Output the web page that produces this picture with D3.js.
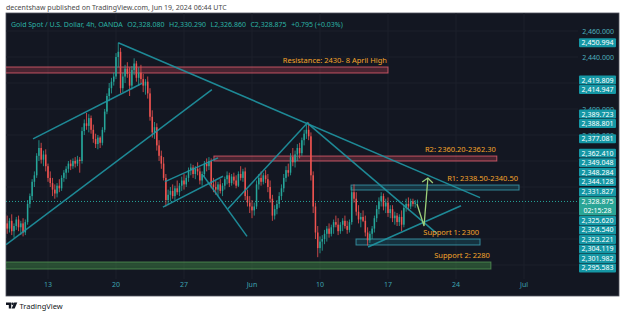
<!DOCTYPE html>
<html>
<head>
<meta charset="utf-8">
<script src="https://cdn.jsdelivr.net/npm/d3@7"></script>
<style>
  html, body { margin: 0; padding: 0; background: #fff; }
  svg { display: block; font-family: "Noto Sans", "DejaVu Sans", sans-serif; }
</style>
</head>
<body>
<svg id="chart" width="625" height="315"></svg>
<script>
// 4h candles, one row per bar: [open, high, low, close]
const candles = [
  [2312,2318,2304,2308],[2308,2316,2305,2314],[2314,2319,2303,2306],[2306,2312,2301,2310],
  [2310,2317,2307,2315],[2315,2318,2306,2309],[2309,2314,2303,2312],[2312,2316,2302,2305],
  [2305,2315,2303,2313],[2313,2330,2311,2327],[2327,2335,2324,2333],[2333,2346,2330,2344],
  [2344,2352,2340,2349],[2349,2366,2347,2364],[2364,2376,2360,2370],[2370,2374,2358,2361],
  [2361,2368,2356,2365],[2365,2369,2352,2356],[2356,2358,2344,2347],[2347,2352,2340,2343],
  [2343,2347,2333,2338],[2338,2342,2331,2335],[2335,2343,2332,2341],[2341,2346,2336,2339],
  [2339,2349,2337,2347],[2347,2353,2344,2351],[2351,2356,2346,2354],[2354,2360,2351,2358],
  [2358,2361,2353,2356],[2356,2362,2354,2360],[2360,2363,2355,2358],[2358,2364,2356,2361],
  [2361,2363,2351,2360],[2360,2386,2358,2383],[2383,2392,2380,2389],[2389,2397,2384,2387],
  [2387,2396,2382,2393],[2393,2395,2381,2384],[2384,2388,2374,2377],[2377,2381,2370,2373],
  [2373,2380,2369,2378],[2378,2379,2370,2374],[2374,2386,2372,2384],[2384,2400,2382,2398],
  [2398,2412,2396,2410],[2410,2420,2406,2416],[2416,2424,2412,2421],[2421,2428,2418,2425],
  [2425,2443,2423,2440],[2440,2451,2432,2444],[2444,2447,2412,2416],[2416,2428,2413,2425],
  [2425,2434,2420,2431],[2431,2436,2424,2427],[2427,2432,2410,2418],[2418,2433,2415,2430],
  [2430,2439,2426,2435],[2435,2437,2421,2424],[2424,2432,2418,2428],[2428,2434,2420,2423],
  [2423,2427,2413,2418],[2418,2423,2411,2421],[2421,2425,2408,2412],[2412,2416,2391,2394],
  [2394,2399,2378,2382],[2382,2390,2377,2386],[2386,2389,2368,2372],[2372,2376,2360,2364],
  [2364,2368,2354,2358],[2358,2363,2345,2347],[2347,2350,2325,2330],[2330,2338,2326,2334],
  [2334,2340,2329,2337],[2337,2342,2331,2333],[2333,2341,2330,2339],[2339,2345,2334,2336],
  [2336,2343,2333,2341],[2341,2348,2337,2345],[2345,2350,2338,2342],[2342,2349,2340,2347],
  [2347,2355,2344,2353],[2353,2358,2349,2355],[2355,2357,2347,2350],[2350,2356,2346,2354],
  [2354,2359,2349,2352],[2352,2355,2342,2345],[2345,2352,2341,2350],[2350,2360,2348,2358],
  [2358,2362,2352,2356],[2356,2363,2353,2360],[2360,2362,2339,2342],[2342,2347,2336,2340],
  [2340,2345,2334,2338],[2338,2344,2333,2342],[2342,2346,2335,2337],[2337,2343,2333,2341],
  [2341,2348,2338,2346],[2346,2352,2342,2349],[2349,2351,2340,2343],[2343,2350,2341,2348],
  [2348,2351,2342,2345],[2345,2349,2339,2341],[2341,2352,2340,2350],[2350,2356,2345,2347],
  [2347,2354,2344,2352],[2352,2355,2330,2333],[2333,2338,2325,2328],[2328,2333,2320,2325],
  [2325,2330,2316,2322],[2322,2328,2318,2325],[2325,2345,2323,2342],[2342,2350,2338,2347],
  [2347,2352,2341,2344],[2344,2351,2342,2349],[2349,2353,2343,2346],[2346,2350,2336,2340],
  [2340,2345,2328,2331],[2331,2334,2314,2318],[2318,2326,2315,2323],[2323,2330,2319,2327],
  [2327,2336,2324,2333],[2333,2342,2330,2339],[2339,2350,2336,2347],[2347,2356,2344,2353],
  [2353,2358,2348,2351],[2351,2366,2349,2363],[2363,2370,2356,2359],[2359,2368,2355,2365],
  [2365,2373,2360,2370],[2370,2374,2362,2366],[2366,2378,2364,2376],[2376,2384,2372,2381],
  [2381,2388,2377,2384],[2384,2389.7,2376,2379],[2379,2382,2345,2349],[2349,2352,2320,2325],
  [2325,2328,2300,2305],[2305,2310,2286,2293],[2293,2302,2289,2298],[2298,2303,2291,2300],
  [2300,2307,2296,2304],[2304,2310,2298,2308],[2308,2312,2301,2304],[2304,2311,2302,2309],
  [2309,2315,2304,2313],[2313,2318,2309,2311],[2311,2316,2303,2306],[2306,2313,2304,2311],
  [2311,2316,2306,2314],[2314,2318,2308,2310],[2310,2314,2304,2307],[2307,2315,2305,2313],
  [2313,2340,2311,2336],[2336,2342,2328,2331],[2331,2336,2318,2321],[2321,2326,2312,2315],
  [2315,2320,2309,2317],[2317,2322,2313,2314],[2314,2318,2302,2305],[2305,2309,2295,2299],
  [2299,2306,2297,2304],[2304,2310,2300,2308],[2308,2318,2305,2316],[2316,2326,2313,2323],
  [2323,2332,2319,2329],[2329,2336,2325,2333],[2333,2335,2322,2325],[2325,2331,2320,2328],
  [2328,2332,2317,2320],[2320,2326,2316,2323],[2323,2326,2313,2316],[2316,2321,2311,2318],
  [2318,2320,2310,2313],[2313,2319,2310,2317],[2317,2322,2306,2311],[2311,2326,2309,2324],
  [2324,2331,2321,2327],[2327,2332,2322,2325],[2325,2331,2323,2329],[2329,2331,2325,2327],
  [2327,2330,2324,2328.08],[2328.08,2330.29,2326.86,2328.875]
];

// time axis: bar index of each week start
const tickIdx = [18, 48, 78, 108, 138, 168, 198, 228];
const tickLabels = ["13", "20", "27", "Jun", "10", "17", "24", "Jul"];
const priceTicks = [2280, 2300, 2320, 2340, 2360, 2380, 2400, 2420, 2440, 2460];

// price tags on the right scale
const tagPrices = [2450.994, 2419.809, 2414.947, 2389.723, 2388.801, 2377.081, 2362.410,
  2349.048, 2348.284, 2344.128, 2331.827, 2325.620, 2324.540, 2323.221, 2304.119, 2301.982, 2295.583];
const lastPrice = 2328.875;
const countdown = "02:15:28";

// zones: [label, fromBar, toBar, lowPrice, highPrice, kind]
const zones = [
  ["Resistance: 2430- 8 April High", -6, 168, 2427.7, 2432.3, "red"],
  ["R2: 2360.20-2362.30", 91.2, 216, 2360.0, 2363.8, "red"],
  ["R1: 2338.50-2340.50", 151.7, 225.8, 2337.7, 2341.5, "blue"],
  ["Support 1: 2300", 153.9, 208.6, 2295.4, 2300.0, "blue"],
  ["Support 2: 2280", -6, 213.4, 2276.9, 2282.3, "green"]
];

// trend lines: [bar0, price0, bar1, price1]
const trendLines = [
  [49, 2450.994, 208.6, 2331.827],
  [132.7, 2388.801, 189.6, 2304.119],
  [97.4, 2323.221, 132.7, 2389.723],
  [86.4, 2349.048, 105.8, 2301.982],
  [69.6, 2344.128, 93, 2362.410],
  [68.7, 2324.540, 95.2, 2348.284],
  [-0.5, 2295.583, 90.3, 2414.947],
  [11.4, 2377.081, 59.5, 2419.809],
  [159.2, 2293.8, 200.2, 2325.620]
];

// projected path arrow: [bar, price]
const arrowPts = [[180.8, 2326.9], [183.9, 2310.0], [185.6, 2346.9]];

const svg = d3.select("#chart");
const plot = { left: 6, top: 13, right: 578, bottom: 279 };
const panel = { left: 6, top: 13, right: 619, bottom: 296 };

const x = d3.scaleLinear().domain([18, 228]).range([48, 524]);
const y = d3.scaleLinear().domain([2280, 2460]).range([265, 31]);

const upCol = "#26a69a", downCol = "#ef5350", lineCol = "#1f96a3", noteCol = "#f5a52a";
const tagCol = "#1597a5";

// header
svg.append("text").attr("x", 6).attr("y", 10)
  .attr("font-size", 7).attr("fill", "#4a4a4a")
  .text("decentshaw published on TradingView.com, Jun 19, 2024 06:44 UTC");

// chart panel
svg.append("rect")
  .attr("x", panel.left).attr("y", panel.top)
  .attr("width", panel.right - panel.left).attr("height", panel.bottom - panel.top)
  .attr("fill", "#131722").attr("stroke", "#50535e").attr("stroke-width", 0.8);

svg.append("clipPath").attr("id", "clip")
  .append("rect")
  .attr("x", plot.left).attr("y", plot.top)
  .attr("width", plot.right - plot.left).attr("height", plot.bottom - plot.top);

const g = svg.append("g").attr("clip-path", "url(#clip)");

// grid
g.selectAll(".hgrid").data(priceTicks).enter().append("line")
  .attr("x1", plot.left).attr("x2", plot.right)
  .attr("y1", d => y(d)).attr("y2", d => y(d))
  .attr("stroke", "#1c202b").attr("stroke-width", 1);
g.selectAll(".vgrid").data(tickIdx).enter().append("line")
  .attr("x1", d => x(d)).attr("x2", d => x(d))
  .attr("y1", plot.top).attr("y2", plot.bottom)
  .attr("stroke", "#1c202b").attr("stroke-width", 1);

// zones
const zoneFill = { red: "rgba(242,80,100,0.24)", blue: "rgba(33,150,170,0.22)", green: "rgba(76,175,80,0.35)" };
const zoneStroke = { red: "rgba(240,100,115,0.75)", blue: "rgba(60,160,180,0.8)", green: "rgba(90,160,90,0.7)" };
g.selectAll(".zone").data(zones).enter().append("rect")
  .attr("x", d => x(d[1])).attr("y", d => y(d[4]))
  .attr("width", d => x(d[2]) - x(d[1]))
  .attr("height", d => y(d[3]) - y(d[4]))
  .attr("fill", d => zoneFill[d[5]])
  .attr("stroke", d => zoneStroke[d[5]]).attr("stroke-width", 1);

// current price line
g.append("line")
  .attr("x1", plot.left).attr("x2", plot.right)
  .attr("y1", y(lastPrice)).attr("y2", y(lastPrice))
  .attr("stroke", upCol).attr("stroke-width", 1).attr("stroke-dasharray", "1,2");

// candles
const bw = 1.5;
const cg = g.append("g");
cg.selectAll(".wick").data(candles).enter().append("line")
  .attr("x1", (d, i) => x(i)).attr("x2", (d, i) => x(i))
  .attr("y1", d => y(d[1])).attr("y2", d => y(d[2]))
  .attr("stroke", d => d[3] >= d[0] ? upCol : downCol).attr("stroke-width", 0.8);
cg.selectAll(".body").data(candles).enter().append("rect")
  .attr("x", (d, i) => x(i) - bw / 2)
  .attr("y", d => y(Math.max(d[0], d[3])))
  .attr("width", bw)
  .attr("height", d => Math.max(0.8, Math.abs(y(d[0]) - y(d[3]))))
  .attr("fill", d => d[3] >= d[0] ? upCol : downCol);

// trend lines
g.selectAll(".trend").data(trendLines).enter().append("line")
  .attr("x1", d => x(d[0])).attr("y1", d => y(d[1]))
  .attr("x2", d => x(d[2])).attr("y2", d => y(d[3]))
  .attr("stroke", lineCol).attr("stroke-width", 1.5).attr("stroke-opacity", 0.9);

// arrow
const arrowCol = "#9ccf7a";
g.append("path")
  .attr("d", d3.line().x(d => x(d[0])).y(d => y(d[1]))(arrowPts))
  .attr("fill", "none").attr("stroke", arrowCol).attr("stroke-width", 1.3);
{
  const a = arrowPts[arrowPts.length - 2], b = arrowPts[arrowPts.length - 1];
  const tx = x(b[0]), ty = y(b[1]);
  const ang = Math.atan2(ty - y(a[1]), tx - x(a[0]));
  const len = 7, spread = Math.PI / 3.6;
  const wing = s => [tx - len * Math.cos(ang + s), ty - len * Math.sin(ang + s)];
  const w1 = wing(spread), w2 = wing(-spread);
  g.append("path")
    .attr("d", `M${w1[0]},${w1[1]}L${tx},${ty}L${w2[0]},${w2[1]}`)
    .attr("fill", "none").attr("stroke", arrowCol).attr("stroke-width", 1.3);
}

// zone notes, right aligned at zone end
g.selectAll(".note").data(zones).enter().append("text")
  .attr("x", d => x(d[2]) - 1).attr("y", d => y(d[4]) - 4)
  .attr("text-anchor", "end").attr("font-size", 7.5)
  .attr("fill", noteCol).text(d => d[0]);

// tag layout: keep the last price fixed, push others away from it
const tagH = 9.5;
const lastTop = y(lastPrice) - tagH / 2, lastBot = lastTop + 2 * tagH;
const above = tagPrices.filter(p => p > lastPrice).sort((a, b) => a - b);
const below = tagPrices.filter(p => p < lastPrice).sort((a, b) => b - a);
const tags = [];
let lim = lastTop - tagH / 2;
above.forEach(p => { const c = Math.min(y(p), lim); tags.push([p, c]); lim = c - tagH; });
lim = lastBot + tagH / 2;
below.forEach(p => { const c = Math.max(y(p), lim); tags.push([p, c]); lim = c + tagH; });
const tagCenters = tags.map(t => t[1]).concat([y(lastPrice), y(lastPrice) + tagH]);

// right price scale labels: the ones fully under the tag stack stay hidden
const hidden = p => {
  const py = y(p);
  if (tagCenters.some(c => Math.abs(c - py) < 3.5)) return true;
  const up = tagCenters.some(c => c <= py && py - c < tagH);
  const dn = tagCenters.some(c => c > py && c - py < tagH);
  return up && dn;
};
const fmt = d3.format(",.3f");
svg.selectAll(".ptick")
  .data(priceTicks.filter(p => !hidden(p)))
  .enter().append("text")
  .attr("x", 614).attr("y", d => y(d) + 2.5)
  .attr("text-anchor", "end").attr("font-size", 7).attr("fill", "#4fb0bd")
  .text(d => fmt(d));

const tagX = 579, tagW = 37;
const tg = svg.append("g");
tg.selectAll("rect").data(tags).enter().append("rect")
  .attr("x", tagX).attr("y", d => d[1] - tagH / 2 + 0.3)
  .attr("width", tagW).attr("height", tagH - 0.6).attr("rx", 1)
  .attr("fill", tagCol);
tg.selectAll("text").data(tags).enter().append("text")
  .attr("x", tagX + tagW / 2).attr("y", d => d[1] + 2.5)
  .attr("text-anchor", "middle").attr("font-size", 7).attr("fill", "#fff")
  .text(d => fmt(d[0]));

// last price tag with countdown
tg.append("rect").attr("x", tagX).attr("y", lastTop + 0.3)
  .attr("width", tagW).attr("height", 2 * tagH - 0.6).attr("rx", 1).attr("fill", "#2aa596");
tg.append("text").attr("x", tagX + tagW / 2).attr("y", y(lastPrice) + 2.5)
  .attr("text-anchor", "middle").attr("font-size", 7).attr("fill", "#fff").text(fmt(lastPrice));
tg.append("text").attr("x", tagX + tagW / 2).attr("y", y(lastPrice) + tagH + 2.5)
  .attr("text-anchor", "middle").attr("font-size", 7).attr("fill", "#fff").text(countdown);

// time axis labels
svg.selectAll(".xtick").data(tickIdx).enter().append("text")
  .attr("x", d => x(d)).attr("y", 287)
  .attr("text-anchor", "middle").attr("font-size", 7).attr("fill", "#3da3b0")
  .text((d, i) => tickLabels[i]);

// legend row
const legendParts = ["Gold Spot / U.S. Dollar, 4h, OANDA", "O2,328.080", "H2,330.290",
  "L2,326.860", "C2,328.875", "+0.795 (+0.03%)"];
let lx = 11;
legendParts.forEach(t => {
  const el = svg.append("text").attr("x", lx).attr("y", 27)
    .attr("font-size", 7).attr("fill", "#2bb3a4").text(t);
  lx += el.node().getComputedTextLength() + 4.5;
});

// TradingView mark
const logo = svg.append("g").attr("fill", "#131722");
logo.append("path").attr("d", "M6 302.5h5.2v6h-2.4v-3.6H6z");
logo.append("circle").attr("cx", 12.6).attr("cy", 303.8).attr("r", 1.3);
logo.append("path").attr("d", "M14.2 302.5h3.1l-2.6 6h-3.1z");
svg.append("text").attr("x", 19.5).attr("y", 308.5)
  .attr("font-size", 7.5).attr("fill", "#131722").text("TradingView");
</script>
</body>
</html>
